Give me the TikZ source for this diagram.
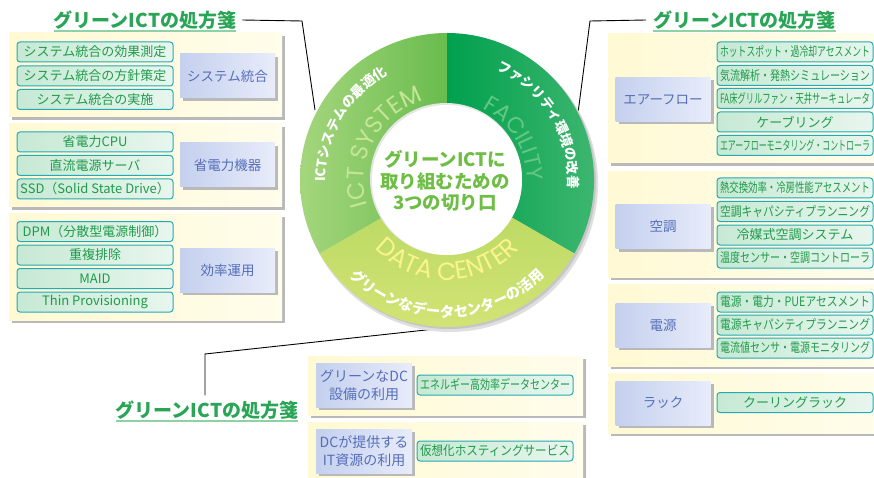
\documentclass[tikz,border=0pt]{standalone}
\usepackage{fontspec}
\setmainfont{Noto Sans CJK JP}
\newfontfamily\geofont{Poppins}
\usepackage{graphicx}
\usetikzlibrary{calc,decorations.text,shadows}

\definecolor{bgL}{RGB}{255,249,212}
\definecolor{bgR}{RGB}{255,253,235}
\definecolor{shadowgray}{RGB}{185,185,185}
\definecolor{itemborder}{RGB}{35,170,180}
\definecolor{itemL}{RGB}{198,233,212}
\definecolor{itemR}{RGB}{232,246,238}
\definecolor{itemtext}{RGB}{30,155,75}
\definecolor{labL}{RGB}{196,208,238}
\definecolor{labR}{RGB}{232,236,250}
\definecolor{labtext}{RGB}{85,110,185}
\definecolor{titlegreen}{RGB}{40,165,85}
\definecolor{titleline}{RGB}{140,210,165}
\definecolor{centertext}{RGB}{110,190,70}
\definecolor{ictA}{RGB}{165,214,125}
\definecolor{ictB}{RGB}{105,188,78}
\definecolor{facA}{RGB}{0,160,78}
\definecolor{facB}{RGB}{70,185,115}
\definecolor{dcA}{RGB}{182,215,95}
\definecolor{dcB}{RGB}{214,229,120}
\definecolor{ictbig}{RGB}{196,230,150}
\definecolor{facbig}{RGB}{100,200,130}
\definecolor{dcbig}{RGB}{250,244,140}

\newsavebox\fitbox
\newcommand\fitto[2]{\sbox\fitbox{#2}\ifdim\wd\fitbox>#1\relax\resizebox{#1}{\height}{\usebox\fitbox}\else\usebox\fitbox\fi}

\tikzset{
  grp/.style={left color=bgL,right color=bgR,drop shadow={shadow xshift=3pt,shadow yshift=-3pt,fill=shadowgray,opacity=1}},
  itembox/.style={draw=itemborder,line width=1pt,rounded corners=3pt,left color=itemL,right color=itemR,text=itemtext,minimum width=156pt,minimum height=20pt,inner sep=0pt,font=\fontsize{13}{13}\selectfont},
  labelbox/.style={left color=labL,right color=labR,text=labtext,minimum width=95pt,minimum height=44pt,inner sep=0pt,align=center,font=\fontsize{13.5}{17}\selectfont,drop shadow={shadow xshift=3pt,shadow yshift=-3pt,fill=shadowgray,opacity=1}},
  titletext/.style={text=titlegreen,font=\fontsize{19}{19}\selectfont\bfseries,inner sep=0pt},
  leader/.style={draw=black,line width=0.9pt},
  uline/.style={draw=titleline,line width=1.2pt},
}

\begin{document}
\begin{tikzpicture}[x=1pt,y=1pt]
\useasboundingbox (0,0) rectangle (874,-478);
\fill[white] (0,0) rectangle (874,-478);

% ---------- leaders ----------
\coordinate (C) at (447,-180);
\coordinate (l1a) at (302,-21);
\coordinate (l1b) at (315,-110);
\coordinate (l2a) at (590,-21);
\coordinate (l2b) at (578,-113);
\coordinate (l3a) at (205,-354);
\coordinate (l3b) at (435,-329);

\node[titletext] (t1) at (145,-20) {グリーンICTの処方箋};
\node[titletext] (t2) at (744.5,-20) {グリーンICTの処方箋};
\node[titletext] (t3) at (207,-410) {グリーンICTの処方箋};
\draw[uline] ([yshift=-1.5pt]t1.south west) -- ([yshift=-1.5pt]t1.south east);
\draw[uline] ([yshift=-1.5pt]t2.south west) -- ([yshift=-1.5pt]t2.south east);
\draw[uline] ([yshift=-1.5pt]t3.south west) -- ([yshift=-1.5pt]t3.south east);

\draw[leader] ([xshift=6pt]t1.east) -- (l1a) -- (l1b);
\draw[leader] ([xshift=-7pt]t2.west) -- (l2a) -- (l2b);
\draw[leader] ([xshift=-2pt,yshift=5pt]t3.north) -- (l3a) -- (l3b);

% ---------- ring ----------
\fill[gray!25] ($(C)+(3,-4)$) circle (148);
\fill[gray!45] ($(C)+(2,-2)$) circle (147);
\path[left color=ictA,right color=ictB] (C) -- ($(C)+(90:147)$) arc[start angle=90,end angle=210,radius=147] -- cycle;
\path[left color=facA,right color=facB] (C) -- ($(C)+(-30:147)$) arc[start angle=-30,end angle=90,radius=147] -- cycle;
\path[top color=dcA,bottom color=dcB] (C) -- ($(C)+(210:147)$) arc[start angle=210,end angle=330,radius=147] -- cycle;
\fill[gray!20] ($(C)+(-1,1)$) circle (76);
\fill[white] (C) circle (75);

% ring texts
\path[decorate,decoration={text along path,text align=center,text color=ictbig,
  text={|\geofont\fontsize{24}{24}\selectfont|ICT SYSTEM}}]
  ($(C)+(220:83)$) arc[start angle=220,end angle=84,radius=83];
\path[decorate,decoration={text along path,text align=center,text color=facbig,
  text={|\geofont\fontsize{22.5}{22.5}\selectfont|FACILITY}}]
  ($(C)+(98:80)$) arc[start angle=98,end angle=-35,radius=80];
\path[decorate,decoration={text along path,text align=center,text color=dcbig,
  text={|\geofont\fontsize{25}{25}\selectfont|DATA CENTER}}]
  ($(C)+(200:100)$) arc[start angle=200,end angle=340,radius=100];

\path[decorate,decoration={text along path,text align=center,text color=white,
  text={|\bfseries\fontsize{13.5}{13.5}\selectfont|ICTシステムの最適化}}]
  ($(C)+(215:121)$) arc[start angle=215,end angle=85,radius=121];
\path[decorate,decoration={text along path,text align=center,text color=white,
  text={|\bfseries\fontsize{13.5}{13.5}\selectfont|ファシリティ環境の改善}}]
  ($(C)+(96:121)$) arc[start angle=96,end angle=-34,radius=121];
\path[decorate,decoration={text along path,text align=center,text color=white,
  text={|\bfseries\fontsize{14.5}{14.5}\selectfont|グリーンなデータセンターの活用}}]
  ($(C)+(200:137)$) arc[start angle=200,end angle=340,radius=137];

\node[font=\fontsize{18.5}{21.5}\selectfont\bfseries,text=centertext,align=center] (ctr) at (445,-181)
  {グリーンICTに\\取り組むための\\3つの切り口};

% ---------- left panel ----------
\path[grp] (9,-33) rectangle (282,-117);
\path[grp] (9,-124) rectangle (282,-207);
\path[grp] (9,-214) rectangle (282,-320);

\node[itembox] (a1) at (95,-52) {\fitto{150pt}{システム統合の効果測定}};
\node[itembox] (a2) at (95,-76) {\fitto{150pt}{システム統合の方針策定}};
\node[itembox] (a3) at (95,-99.5) {\fitto{150pt}{システム統合の実施}};
\node[labelbox] (la) at (227.5,-76) {システム統合};

\node[itembox] (b1) at (95,-142) {\fitto{150pt}{省電力CPU}};
\node[itembox] (b2) at (95,-165.5) {\fitto{150pt}{直流電源サーバ}};
\node[itembox] (b3) at (95,-189) {\fitto{150pt}{SSD（Solid State Drive）}};
\node[labelbox] (lb) at (227.5,-165) {省電力機器};

\node[itembox] (c1) at (95,-231.5) {\fitto{150pt}{DPM（分散型電源制御）}};
\node[itembox] (c2) at (95,-255) {\fitto{150pt}{重複排除}};
\node[itembox] (c3) at (95,-278.5) {\fitto{150pt}{MAID}};
\node[itembox] (c4) at (95,-302) {\fitto{150pt}{Thin Provisioning}};
\node[labelbox] (lc) at (227.5,-270) {効率運用};

% ---------- right panel ----------
\path[grp] (608,-34) rectangle (876,-163);
\path[grp] (608,-172) rectangle (876,-277);
\path[grp] (608,-284) rectangle (876,-366);
\path[grp] (608,-373) rectangle (876,-433);

\node[itembox] (d1) at (795,-52) {\fitto{150pt}{ホットスポット・過冷却アセスメント}};
\node[itembox] (d2) at (795,-75.5) {\fitto{150pt}{気流解析・発熱シミュレーション}};
\node[itembox] (d3) at (795,-98.5) {\fitto{150pt}{FA床グリルファン・天井サーキュレータ}};
\node[itembox] (d4) at (795,-122) {\fitto{150pt}{ケーブリング}};
\node[itembox] (d5) at (795,-145.5) {\fitto{150pt}{エアーフローモニタリング・コントローラ}};
\node[labelbox] (ld) at (663,-99.5) {エアーフロー};

\node[itembox] (e1) at (795,-188) {\fitto{150pt}{熱交換効率・冷房性能アセスメント}};
\node[itembox] (e2) at (795,-211.5) {\fitto{150pt}{空調キャパシティプランニング}};
\node[itembox] (e3) at (795,-235) {\fitto{150pt}{冷媒式空調システム}};
\node[itembox] (e4) at (795,-258) {\fitto{150pt}{温度センサー・空調コントローラ}};
\node[labelbox] (le) at (663,-226.5) {空調};

\node[itembox] (f1) at (795,-302) {\fitto{150pt}{電源・電力・PUEアセスメント}};
\node[itembox] (f2) at (795,-325) {\fitto{150pt}{電源キャパシティプランニング}};
\node[itembox] (f3) at (795,-348) {\fitto{150pt}{電流値センサ・電源モニタリング}};
\node[labelbox] (lf) at (663,-325) {電源};

\node[itembox] (g1) at (795,-402.5) {\fitto{150pt}{クーリングラック}};
\node[labelbox] (lg) at (663,-403) {ラック};

% ---------- bottom panel ----------
\path[grp] (308,-356) rectangle (583,-415);
\path[grp] (308,-422) rectangle (583,-482);

\node[labelbox,minimum width=96pt,font=\fontsize{14}{18}\selectfont] (lh) at (364,-385) {グリーンなDC\\設備の利用};
\node[itembox] (h1) at (495,-385) {\fitto{150pt}{エネルギー高効率データセンター}};
\node[labelbox,minimum width=96pt,font=\fontsize{14}{18}\selectfont] (li) at (364,-451) {DCが提供する\\IT資源の利用};
\node[itembox] (i1) at (495,-451) {\fitto{150pt}{仮想化ホスティングサービス}};
\end{tikzpicture}
\end{document}
